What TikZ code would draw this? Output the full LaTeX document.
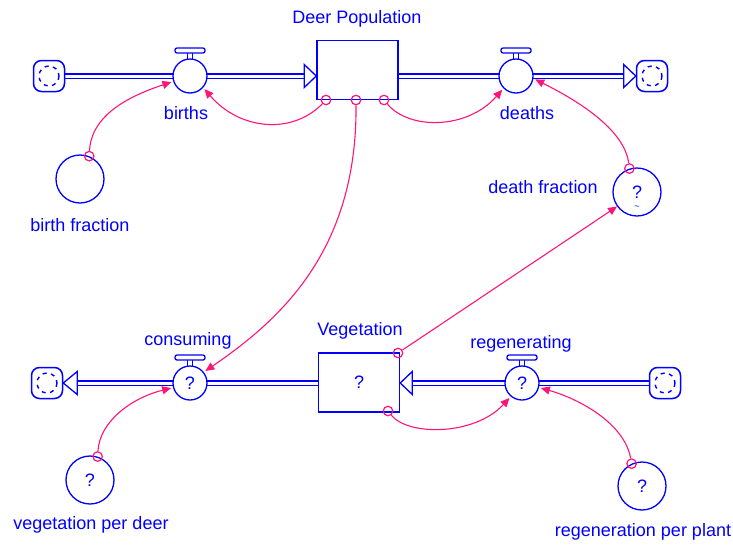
\documentclass[tikz,border=0pt]{standalone}
\usepackage{fontspec}
\setmainfont{Liberation Sans}
\usetikzlibrary{arrows.meta,calc}
\pgfdeclarelayer{background}
\pgfsetlayers{background,main}
\definecolor{flowblue}{RGB}{0,0,255}
\definecolor{linkpink}{RGB}{255,20,120}

% bar and stem on top of a flow valve
\newcommand\valvecap[1]{%
  \draw[flowblue, line width=1.2pt] ($(#1.center)+(-2.5,-17)$) -- ++(0,-6)
                                    ($(#1.center)+(2.5,-17)$) -- ++(0,-6);
  \draw[flowblue, line width=1.3pt, fill=white, rounded corners=2pt]
    ($(#1.center)+(-15,-23)$) rectangle ++(30,-5);}

\begin{document}
\begin{tikzpicture}[x=1pt, y=-1pt,
  txt/.style={text=flowblue, font=\fontsize{18}{21}\selectfont},
  lbl/.style={txt, inner sep=0pt, anchor=base},
  stock/.style={txt, draw=flowblue, fill=white, line width=1.5pt,
    minimum width=81pt, minimum height=59pt, inner sep=0pt},
  valve/.style={txt, circle, draw=flowblue, fill=white, line width=1.3pt,
    minimum size=34pt, inner sep=0pt, outer sep=2.5pt},
  aux/.style={txt, circle, draw=flowblue, fill=white, line width=1.3pt,
    minimum size=48pt, inner sep=0pt},
  cloud/.style={draw=flowblue, fill=white, line width=1.5pt, minimum size=31pt,
    inner sep=0pt, rounded corners=8pt,
    path picture={\draw[flowblue, line width=1.4pt, dash pattern=on 4pt off 4.5pt, dash phase=1pt]
      (path picture bounding box.center) circle [radius=10pt];}},
  tap/.style={circle, draw=linkpink, line width=1.2pt, minimum size=9.5pt, inner sep=0pt},
  link/.style={draw=linkpink, line width=1.1pt, -{Triangle[length=9pt,width=8pt]}},
  pipe/.style={draw=flowblue, line width=1.8pt, double=white, double distance=3pt},
  pipehead/.style={draw=flowblue, fill=white, line width=1.3pt, line join=miter}]

\useasboundingbox (0,0) rectangle (733,544);

% ---- stocks, valves, converters, clouds
\node[stock] (deer) at (357.5,70) {};
\node[stock] (veg)  at (359,382.5) {?};

\node[valve] (births)    at (190,76)  {};
\node[valve] (deaths)    at (516,76)  {};
\node[valve] (consuming) at (190,383) {?};
\node[valve] (regen)     at (522,383) {?};
\valvecap{births}
\valvecap{deaths}
\valvecap{consuming}
\valvecap{regen}

\node[aux] (bf)  at (80,179)  {};
\node[aux] (df)  at (637,192) {?};
\node[txt, font=\fontsize{9}{9}\selectfont] (dfmark) at (637,208) {\textasciitilde};
\node[aux] (vpd) at (90,480)  {?};
\node[aux] (rpp) at (642,486) {?};

\node[cloud] (cloudTL) at (49,76)  {};
\node[cloud] (cloudTR) at (652,76) {};
\node[cloud] (cloudBL) at (47,383) {};
\node[cloud] (cloudBR) at (665,383) {};

% ---- white ground and pipes, behind everything
\begin{pgfonlayer}{background}
  \fill[white] (0,0) rectangle (733,544);
  \draw[pipe] (cloudTL.center) -- ($(deer.west |- births)+(-12,0)$);
  \draw[pipe] (deer.east |- deaths) -- ($(cloudTR.west |- deaths)+(-12,0)$);
  \draw[pipe] (veg.west |- consuming) -- ($(cloudBL.east |- consuming)+(14,0)$);
  \draw[pipe] (cloudBR.center) -- ($(veg.east |- regen)+(12,0)$);
\end{pgfonlayer}
\draw[pipehead] (deer.west |- births) -- ++(-12,-11.5) -- ++(0,23) -- cycle;
\draw[pipehead] (cloudTR.west |- deaths) -- ++(-12,-11.5) -- ++(0,23) -- cycle;
\draw[pipehead] (cloudBL.east |- consuming) -- ++(14,-11.5) -- ++(0,23) -- cycle;
\draw[pipehead] (veg.east |- regen) -- ++(12,-11.5) -- ++(0,23) -- cycle;

% ---- labels
\node[lbl] (tDeer)  at (357,23)  {Deer Population};
\node[lbl] (tBirths) at (186,119) {births};
\node[lbl] (tDeaths) at (527,119) {deaths};
\node[lbl] (tBf)    at (80,231)  {birth fraction};
\node[lbl] (tDf)    at (543,193) {death fraction};
\node[lbl] (tCons)  at (188,345) {consuming};
\node[lbl] (tVeg)   at (360,335) {Vegetation};
\node[lbl] (tRegen) at (521,348) {regenerating};
\node[lbl] (tVpd)   at (91,529)  {vegetation per deer};
\node[lbl] (tRpp)   at (643,536) {regeneration per plant};

% ---- connector origins
\node[tap] (td1)  at (326,100) {};
\node[tap] (td2)  at (356,100) {};
\node[tap] (td3)  at (384,100) {};
\node[tap] (tv1)  at (398,353) {};
\node[tap] (tv2)  at (388,411) {};
\node[tap] (tbf)  at (bf.68)   {};
\node[tap] (tdf)  at (df.108)  {};
\node[tap] (tvpd) at (vpd.72)  {};
\node[tap] (trpp) at (rpp.115) {};

% ---- connectors
\draw[link] (tbf) .. controls +(2,-40) and +(-45,15) .. (births.198);
\draw[link] (td1) .. controls +(-34,35) and +(35,41) .. (births.-42);
\draw[link] (td3) .. controls +(25,30) and +(-35,40) .. (deaths.-135);
\draw[link] (td2) .. controls +(1,150) and +(76,-52) .. (consuming.38);
\draw[link] (tv1) -- (df.216);
\draw[link] (tdf) .. controls +(-5,-40) and +(40,20) .. (deaths.-10);
\draw[link] (tvpd) .. controls +(2,-35) and +(-40,10) .. (consuming.195);
\draw[link] (tv2) .. controls +(20,25) and +(-35,38) .. (regen.230);
\draw[link] (trpp) .. controls +(-7,-40) and +(39,11) .. (regen.-15);
\end{tikzpicture}
\end{document}
